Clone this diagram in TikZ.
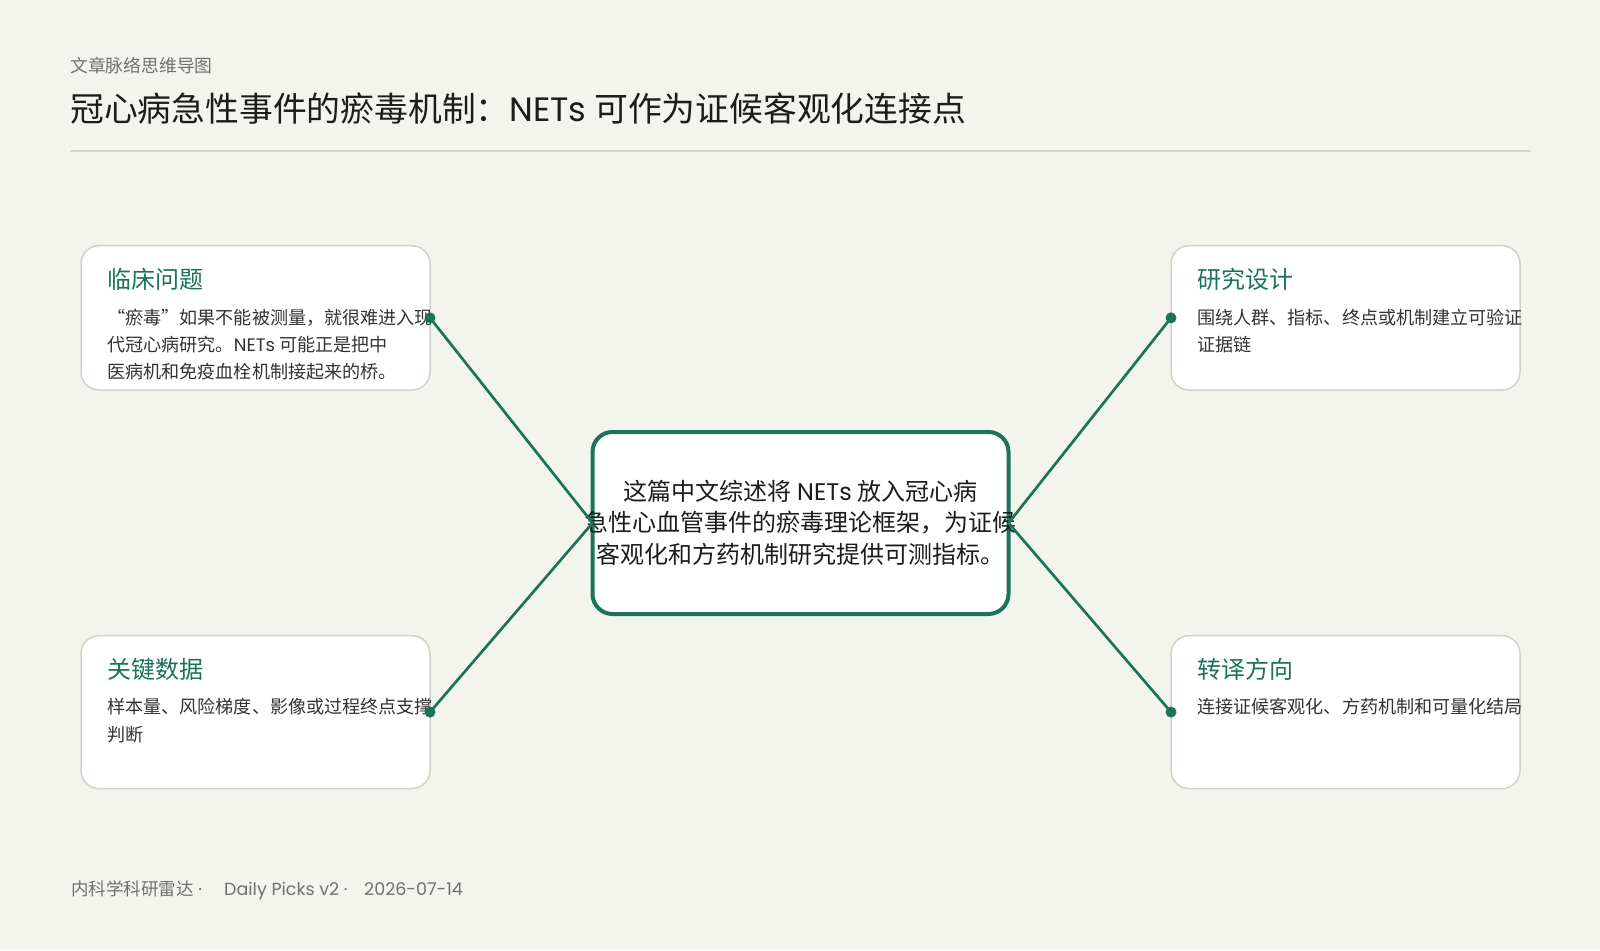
\documentclass[tikz,border=0pt]{standalone}
\usepackage{fontspec}
\setmainfont{Noto Sans CJK SC}
\newfontfamily\lat{Poppins}
\definecolor{bg}{HTML}{F4F4EF}
\definecolor{accent}{HTML}{1A735A}
\definecolor{cardline}{HTML}{D2D2C8}
\definecolor{rulec}{HTML}{D6D6D0}
\definecolor{ink}{HTML}{1C1C1C}
\definecolor{bodyc}{HTML}{333333}
\definecolor{mute}{HTML}{707070}
\begin{document}
\begin{tikzpicture}[x=1pt,y=-1pt,
  card/.style={draw=cardline, line width=1.5pt, fill=white, rounded corners=18pt,
    inner sep=0pt, outer sep=0pt, minimum width=349pt},
  centerbox/.style={draw=accent, line width=4pt, fill=white, rounded corners=20pt,
    inner sep=0pt, outer sep=0pt, minimum width=416pt, minimum height=182pt},
  cardtitle/.style={font=\fontsize{24pt}{28pt}\selectfont, text=accent, anchor=base west, inner sep=0pt},
  bodyline/.style={font=\fontsize{18.1pt}{27pt}\selectfont, text=bodyc, anchor=base west, inner sep=0pt},
  centerline/.style={font=\fontsize{24pt}{30pt}\selectfont, text=ink, anchor=base, inner sep=0pt},
  footline/.style={font=\fontsize{17.5pt}{20pt}\selectfont, text=mute, anchor=base west, inner sep=0pt},
  conn/.style={draw=accent, line width=2.7pt},
  dotc/.style={fill=accent}
]
\fill[bg] (0,0) rectangle (1600,950);
\useasboundingbox (0,0) rectangle (1600,950);

% header
\node[anchor=base west, inner sep=0pt, text=mute, font=\fontsize{17.8pt}{20pt}\selectfont] (sub) at (70,72.3) {文章脉络思维导图};
\node[anchor=base west, inner sep=0pt, text=ink, font=\fontsize{33.8pt}{38pt}\selectfont] (title) at (70,121) {冠心病急性事件的瘀毒机制：{\lat NETs} 可作为证候客观化连接点};
\coordinate (r1) at (70,150.7);
\coordinate (r2) at (1531,150.7);
\draw[rulec, line width=2pt] (r1) -- (r2);

% cards
\node[card, minimum height=144.3pt] (q1) at (255.5,317.85) {};
\node[card, minimum height=144.3pt] (q2) at (1345.5,317.85) {};
\node[card, minimum height=152.8pt] (q3) at (255.5,712.1) {};
\node[card, minimum height=152.8pt] (q4) at (1345.5,712.1) {};

% center
\node[centerbox] (c) at (800.5,523) {};

% card 1
\node[cardtitle] (q1t) at (107,288.6) {临床问题};
\node[bodyline] (q1a) at (107,324.8) {“瘀毒”如果不能被测量，就很难进入现};
\node[bodyline] (q1b) at (107,351.8) {代冠心病研究。{\lat NETs} 可能正是把中};
\node[bodyline] (q1c) at (107,378.8) {医病机和免疫血栓机制接起来的桥。};

% card 2
\node[cardtitle] (q2t) at (1197,288.6) {研究设计};
\node[bodyline] (q2a) at (1197,324.8) {围绕人群、指标、终点或机制建立可验证};
\node[bodyline] (q2b) at (1197,351.8) {证据链};

% card 3
\node[cardtitle] (q3t) at (107,678.8) {关键数据};
\node[bodyline] (q3a) at (107,713.8) {样本量、风险梯度、影像或过程终点支撑};
\node[bodyline] (q3b) at (107,741.3) {判断};

% card 4
\node[cardtitle] (q4t) at (1197,678.8) {转译方向};
\node[bodyline] (q4a) at (1197,713.8) {连接证候客观化、方药机制和可量化结局};

% center text
\node[centerline] (ca) at (800.5,500.2) {这篇中文综述将 {\lat NETs} 放入冠心病};
\node[centerline] (cb) at (800.5,531.7) {急性心血管事件的瘀毒理论框架，为证候};
\node[centerline] (cc) at (800.5,563.2) {客观化和方药机制研究提供可测指标。};

% connectors
\draw[conn] (q1.east) -- (c.west);
\draw[conn] (q3.east) -- (c.west);
\draw[conn] (c.east) -- (q2.west);
\draw[conn] (c.east) -- (q4.west);
\fill[dotc] (q1.east) circle (5.5pt);
\fill[dotc] (q3.east) circle (5.5pt);
\fill[dotc] (q2.west) circle (5.5pt);
\fill[dotc] (q4.west) circle (5.5pt);

% footer
\node[footline] (f1) at (71,895.6) {内科学科研雷达{\lat\ ·}};
\node[footline] (f2) at (224,895.6) {\lat Daily Picks v2 ·};
\node[footline] (f3) at (364,895.6) {\lat 2026-07-14};
\end{tikzpicture}
\end{document}
